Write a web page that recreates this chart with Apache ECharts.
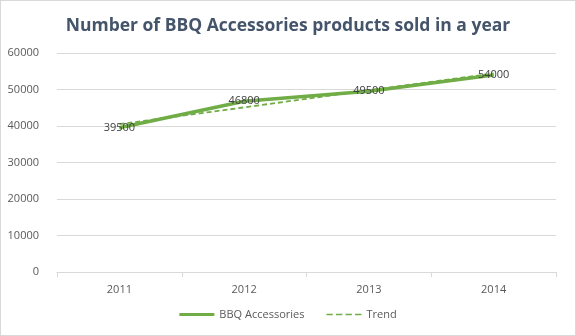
<!DOCTYPE html>
<html><head><meta charset="utf-8">
<script src="https://cdn.jsdelivr.net/npm/echarts@6/dist/echarts.min.js"></script>
<style>html,body{margin:0;padding:0;background:#fff}#c{width:576px;height:336px;box-sizing:border-box;border:1px solid #d9d9d9}</style>
</head><body><div id="c"></div>
<script>
const categories = ['2011', '2012', '2013', '2014'];
const salesValues = [39500, 46800, 49500, 54000];
const trendValues = [40500, 45100, 49800, 54400];
const yTicks = { min: 0, max: 60000, interval: 10000 };

const chart = echarts.init(document.getElementById('c'), null, { renderer: 'canvas' });
const green = '#70AD47';
chart.setOption({
  animation: false,
  title: {
    text: 'Number of BBQ Accessories products sold in a year',
    left: 'center', top: 11,
    textStyle: { fontFamily: 'Open Sans', fontWeight: 'bold', fontSize: 17.5, color: '#44546A' }
  },
  legend: {
    bottom: 10, left: 'center', itemWidth: 35, itemHeight: 10, itemGap: 22,
    textStyle: { fontFamily: 'Open Sans', fontSize: 11, color: '#595959' },
    data: [
      { name: 'BBQ Accessories', icon: 'path://M0,0 L35,0 L35,3 L0,3 Z', itemStyle: { color: green } },
      { name: 'Trend', icon: 'path://M0,0 L6,0 L6,1.5 L0,1.5 Z M9,0 L15,0 L15,1.5 L9,1.5 Z M18,0 L24,0 L24,1.5 L18,1.5 Z M27,0 L33,0 L33,1.5 L27,1.5 Z', itemStyle: { color: green } }
    ]
  },
  grid: { left: 56, right: 19, top: 52, bottom: 63, containLabel: false },
  xAxis: {
    type: 'category', data: categories, boundaryGap: true,
    axisLine: { lineStyle: { color: '#d9d9d9' } },
    axisTick: { show: true, alignWithLabel: false, lineStyle: { color: '#d9d9d9' } },
    axisLabel: { fontFamily: 'Open Sans', fontSize: 11, color: '#595959', margin: 12 }
  },
  yAxis: {
    type: 'value', min: yTicks.min, max: yTicks.max, interval: yTicks.interval,
    axisLine: { show: false }, axisTick: { show: false },
    splitLine: { lineStyle: { color: '#d9d9d9' } },
    axisLabel: { fontFamily: 'Open Sans', fontSize: 11, color: '#595959', margin: 18, formatter: v => String(v) }
  },
  series: [
    {
      name: 'BBQ Accessories', type: 'line', data: salesValues,
      symbol: 'circle', symbolSize: 1, showSymbol: true,
      lineStyle: { color: green, width: 3.5 }, itemStyle: { color: green },
      label: { show: true, position: 'inside', fontFamily: 'Open Sans', fontSize: 11, color: '#404040', formatter: p => String(p.value) },
      z: 3
    },
    {
      name: 'Trend', type: 'line', data: trendValues, symbol: 'none',
      lineStyle: { color: green, width: 1.8, type: [5, 3] }, itemStyle: { color: green },
      z: 2
    }
  ]
});
</script></body></html>
